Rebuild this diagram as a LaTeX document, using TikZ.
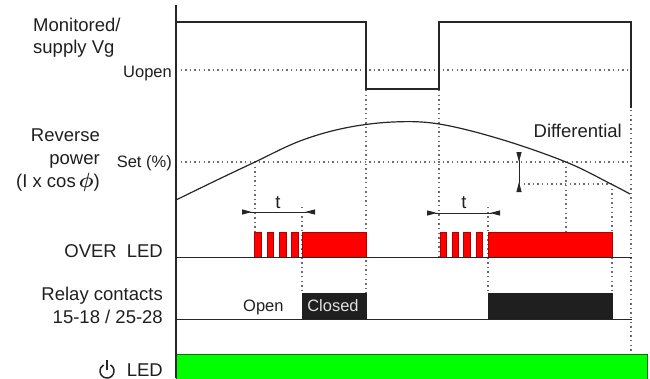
\documentclass[tikz,border=0pt]{standalone}
\usepackage{amsmath}
\usepackage{bm}
\usepackage{fontspec}
\setmainfont{Liberation Sans}
\usetikzlibrary{arrows.meta}
\begin{document}
\begin{tikzpicture}[x=1pt,y=-1pt,
  lbl/.style={inner sep=0pt, font=\fontsize{18.5}{23}\selectfont, align=right, text=black!88},
  small/.style={inner sep=0pt, font=\fontsize{16.5}{19}\selectfont, text=black!88},
  sig/.style={line width=1.2pt, black!85},
  gridline/.style={line width=1.3pt, gray!85!black, dash pattern=on 1.3pt off 3.3pt},
  redpulse/.style={fill=red, draw=red!70!black, line width=0.6pt},
  relaybox/.style={fill=black!88, draw=black!88},
  dim/.style={line width=1pt, black!85, {Triangle[reversed,length=10pt,width=5pt]}-{Triangle[reversed,length=10pt,width=5pt]}}
]
\useasboundingbox (0,0) rectangle (650,378);

% ---- labels (anchor base = baseline of last line) ----
\node[lbl, anchor=base west, align=left, font=\fontsize{18.5}{22}\selectfont] (mon) at (33,53) {Monitored/\\supply Vg};
\node[small, anchor=base east] (uopen) at (172,77) {Uopen};
\node[lbl, anchor=base east] (rev) at (100,187) {Reverse\\power\\(I x cos\,{\fontsize{22}{23}\selectfont$\bm{\phi}$})};
\node[small, anchor=base east] (set) at (172,167) {Set (\%)};
\node[lbl, anchor=base east] (over) at (163,257) {OVER\hspace{10pt}LED};
\node[lbl, anchor=base east] (relay) at (163,323) {Relay contacts\\15-18 / 25-28};
\node[lbl, anchor=base east] (led) at (163,376) {LED};
\node[lbl, anchor=base east] (diff) at (622,137) {Differential};
\node[lbl, anchor=base] (t1) at (278,208) {t};
\node[lbl, anchor=base] (t2) at (464,208) {t};

% power symbol
\draw[line width=1.5pt, black!85] (107,371) ++(-60:7) arc[start angle=-60, end angle=240, radius=7];
\draw[line width=1.5pt, black!85] (107,370) -- (107,360);

% ---- dotted guide lines ----
\coordinate (uL) at (176,70);  \coordinate (uR) at (631,70);
\coordinate (sL) at (176,162); \coordinate (sR) at (631,162);
\coordinate (dL) at (519,184); \coordinate (dR) at (612,184);
\draw[gridline] (uL) -- (uR);
\draw[gridline] (sL) -- (sR);
\draw[gridline] (dL) -- (dR);
\draw[gridline] (255,162) -- (255,257);
\draw[gridline] (302,207) -- (302,293);
\draw[gridline] (366,90) -- (366,293);
\draw[gridline] (439,90) -- (439,257);
\draw[gridline] (488,207) -- (488,293);
\draw[gridline] (566,162) -- (566,257);
\draw[gridline] (612,184) -- (612,293);
\draw[gridline] (631,110) -- (631,354);

% ---- red pulses (OVER LED) ----
\foreach \a/\b in {254/261, 267/273, 279/286, 291/298, 302/366,
                   440/446, 452/458, 463/470, 476/482, 488/612}
  \filldraw[redpulse] (\a,232) rectangle (\b,257);

% ---- relay boxes ----
\filldraw[relaybox] (302,293) rectangle (366,319);
\filldraw[relaybox] (488,293) rectangle (612,319);
\node[small, text=white!88!black, anchor=base] (closed) at (333,311) {Closed};
\node[small, anchor=base west] (open) at (243,311) {Open};

% ---- green LED bar ----
\filldraw[fill=green, draw=green!45!black, line width=0.8pt] (176,354) rectangle (647,382);

% ---- axis and baselines ----
\draw[sig] (176,5) -- (176,378);
\draw[sig, line width=0.9pt] (176,257) -- (632,257);
\draw[sig, line width=0.9pt] (176,319) -- (632,319);

% ---- supply signal ----
\draw[sig] (176,22) -- (366,22) -- (366,89) -- (439,89) -- (439,22) -- (631,22) -- (631,108);

% ---- reverse power curve ----
\draw[sig] plot[smooth, tension=0.6] coordinates {(176,200) (215,181) (255,162) (300,141) (345,128) (393,122) (439,124) (500,139) (566,162) (611,184) (630,194)};

% ---- dimension marks ----
\coordinate (ta1) at (242,212); \coordinate (tb1) at (315,212);
\coordinate (ta2) at (427,213); \coordinate (tb2) at (500,213);
\draw[dim] (ta1) -- (tb1);
\draw[dim] (ta2) -- (tb2);
\coordinate (da) at (519,152); \coordinate (db) at (519,192);
\draw[dim] (da) -- (db);
\end{tikzpicture}
\end{document}
